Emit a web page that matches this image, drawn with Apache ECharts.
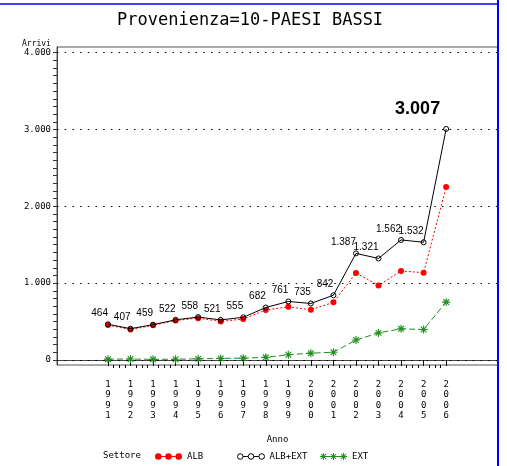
<!DOCTYPE html>
<html>
<head>
<meta charset="utf-8">
<script src="https://cdn.jsdelivr.net/npm/echarts@6/dist/echarts.min.js"></script>
<style>
  html, body { margin: 0; padding: 0; background: #fff; }
  #main { width: 507px; height: 466px; }
</style>
</head>
<body>
<div id="main"></div>
<script>
// dati
const anni = [1991, 1992, 1993, 1994, 1995, 1996, 1997, 1998, 1999, 2000, 2001, 2002, 2003, 2004, 2005, 2006];
const alb = [454, 395, 451, 513, 544, 501, 532, 650, 692, 652, 750, 1132, 970, 1158, 1136, 2251];
const albExt = [464, 407, 459, 522, 558, 521, 555, 682, 761, 735, 842, 1387, 1321, 1562, 1532, 3007];
const ext = [10, 12, 8, 9, 14, 20, 23, 34, 68, 88, 100, 259, 352, 405, 396, 753];
const yTicks = [0, 1000, 2000, 3000, 4000];

const MONO = '"DejaVu Sans Mono", "Liberation Mono", monospace';
const SANS = '"Liberation Sans", Arial, sans-serif';
const RED = '#ff0000';
const GREEN = '#1f8f1f';

// separatore delle migliaia all'italiana
function fmt(v) {
  return String(v).replace(/\B(?=(\d{3})+(?!\d))/g, '.');
}

// asterisco come path (4 bracci)
function asterisk(cx, cy, r, t) {
  let p = '';
  [0, 45, 90, 135].forEach(function (a) {
    const rad = a * Math.PI / 180;
    const dx = Math.cos(rad) * r, dy = Math.sin(rad) * r;
    const px = -Math.sin(rad) * t, py = Math.cos(rad) * t;
    p += 'M' + (cx - dx + px) + ',' + (cy - dy + py) +
      'L' + (cx + dx + px) + ',' + (cy + dy + py) +
      'L' + (cx + dx - px) + ',' + (cy + dy - py) +
      'L' + (cx - dx - px) + ',' + (cy - dy - py) + 'Z';
  });
  return p;
}

function circle(cx, cy, r, sweep) {
  return 'M' + (cx - r) + ',' + cy + 'A' + r + ',' + r + ' 0 1,' + sweep + ' ' + (cx + r) + ',' + cy +
    'A' + r + ',' + r + ' 0 1,' + sweep + ' ' + (cx - r) + ',' + cy + 'Z';
}

function bar(x1, x2, y, h) {
  return 'M' + x1 + ',' + (y - h / 2) + 'L' + x2 + ',' + (y - h / 2) + 'L' + x2 + ',' + (y + h / 2) + 'L' + x1 + ',' + (y + h / 2) + 'Z';
}

const iconAlb = 'path://' + circle(3.5, 3.5, 3.2, 1) + circle(13.5, 3.5, 3.2, 1) + circle(23.5, 3.5, 3.2, 1) +
  bar(6.7, 10.3, 3.5, 1) + bar(16.7, 20.3, 3.5, 1);
// anelli vuoti: solo contorno
const iconTot = 'path://' + circle(3.5, 3.5, 2.6, 1) + circle(13.5, 3.5, 2.6, 1) + circle(23.5, 3.5, 2.6, 1) +
  'M0.9,0.9L0.9,0.9 M26.1,6.1L26.1,6.1' +
  'M6.1,3.5L10.9,3.5 M16.1,3.5L20.9,3.5';
const iconExt = 'path://' + asterisk(3.5, 3.5, 3.5, 0.5) + asterisk(13.5, 3.5, 3.5, 0.5) + asterisk(23.5, 3.5, 3.5, 0.5) +
  bar(7, 10, 3.5, 0.9) + bar(17, 20, 3.5, 0.9);
const starSymbol = 'path://' + asterisk(5, 5, 5, 0.7);

const minorX = [];
for (let y = anni[0]; y < anni[anni.length - 1]; y++) {
  minorX.push(y + 0.25, y + 0.5, y + 0.75);
}
const minorY = [];
for (let v = 0; v <= 4000; v += 100) minorY.push(v);

const chart = echarts.init(document.getElementById('main'), null, { renderer: 'canvas' });

const legendText = { fontFamily: MONO, fontSize: 9, color: '#000' };

const option = {
  backgroundColor: '#fff',
  animation: false,
  title: {
    text: 'Provenienza=10-PAESI BASSI',
    left: 112,
    top: 7,
    textStyle: { fontFamily: MONO, fontSize: 17, fontWeight: 'normal', color: '#000' }
  },
  grid: {
    left: 57, right: 9, top: 47, bottom: 101,
    show: true, borderColor: '#555', borderWidth: 1
  },
  legend: [
    { data: [{ name: 'ALB', icon: iconAlb, itemStyle: { color: RED } }], left: 155, top: 452 },
    {
      data: [{ name: 'ALB+EXT', icon: iconTot, itemStyle: { color: 'transparent', borderColor: '#000', borderWidth: 1 } }],
      left: 237, top: 452
    },
    { data: [{ name: 'EXT', icon: iconExt, itemStyle: { color: GREEN } }], left: 320, top: 452 }
  ].map(function (l) {
    return Object.assign(l, {
      itemWidth: 27, itemHeight: 7, itemGap: 0, padding: 0,
      selectedMode: false,
      textStyle: legendText
    });
  }),
  xAxis: [
    {
      type: 'value',
      min: 1988.74, max: 2008.3,
      name: 'Anno',
      nameLocation: 'middle',
      nameGap: 70,
      nameTextStyle: { fontFamily: MONO, fontSize: 9, color: '#000' },
      axisLine: { show: true, lineStyle: { color: '#444', width: 1 } },
      axisTick: { show: true, customValues: anni, length: 6, lineStyle: { color: '#000' } },
      axisLabel: {
        customValues: anni,
        margin: 14,
        fontFamily: MONO, fontSize: 9, lineHeight: 10.5, color: '#000',
        formatter: function (v) { return String(v).split('').join('\n'); }
      },
      splitLine: { show: false }
    },
    {
      type: 'value',
      position: 'bottom',
      offset: 0,
      min: 1988.74, max: 2008.3,
      axisLine: { show: false },
      axisTick: { show: true, customValues: minorX, length: 3, lineStyle: { color: '#000' } },
      axisLabel: { show: false },
      splitLine: { show: false }
    }
  ],
  yAxis: {
    type: 'value',
    min: -66, max: 4074,
    axisLine: { show: true, lineStyle: { color: '#444', width: 1 } },
    axisTick: { show: true, customValues: minorY, length: 4, lineStyle: { color: '#333' } },
    axisLabel: {
      customValues: yTicks,
      margin: 6,
      fontFamily: MONO, fontSize: 9, color: '#000',
      formatter: fmt
    },
    splitLine: { show: false }
  },
  graphic: [
    { type: 'line', shape: { x1: 0, y1: 4, x2: 498, y2: 4 }, style: { stroke: '#0000ff', lineWidth: 1.5 }, silent: true },
    { type: 'line', shape: { x1: 498, y1: 0, x2: 498, y2: 466 }, style: { stroke: '#0000ff', lineWidth: 2 }, silent: true },
    { type: 'text', left: 22, top: 40, style: { text: 'Arrivi', font: '8px ' + MONO, fill: '#000' } },
    { type: 'text', left: 103, top: 451, style: { text: 'Settore', font: '9px ' + MONO, fill: '#000' } }
  ],
  series: [
    {
      name: 'EXT',
      type: 'line',
      z: 2,
      data: anni.map(function (a, i) { return [a, ext[i]]; }),
      symbol: starSymbol,
      symbolSize: 8,
      itemStyle: { color: GREEN },
      lineStyle: { color: GREEN, width: 1, type: [6, 3] }
    },
    {
      name: 'ALB',
      type: 'line',
      z: 3,
      data: anni.map(function (a, i) { return [a, alb[i]]; }),
      symbol: 'circle',
      symbolSize: 6,
      itemStyle: { color: RED },
      lineStyle: { color: RED, width: 1, type: [2, 2] }
    },
    {
      name: 'ALB+EXT',
      type: 'line',
      z: 4,
      data: anni.map(function (a, i) {
        const item = { value: [a, albExt[i]] };
        if (i === anni.length - 1) {
          item.label = {
            fontSize: 18, fontWeight: 'bold', fontFamily: SANS,
            offset: [-6, -5]
          };
        }
        return item;
      }),
      symbol: 'circle',
      symbolSize: 5,
      itemStyle: { color: 'transparent', borderColor: '#000', borderWidth: 1 },
      lineStyle: { color: '#000', width: 1 },
      label: {
        show: true,
        position: 'top',
        align: 'right',
        distance: 3,
        fontFamily: SANS,
        fontSize: 10,
        color: '#000',
        formatter: function (p) { return fmt(p.value[1]); }
      },
      markLine: {
        silent: true,
        symbol: 'none',
        label: { show: false },
        lineStyle: { color: '#000', width: 1, type: [1.5, 6.2] },
        data: yTicks.map(function (v) { return { yAxis: v }; })
      }
    }
  ]
};

chart.setOption(option);
</script>
</body>
</html>
